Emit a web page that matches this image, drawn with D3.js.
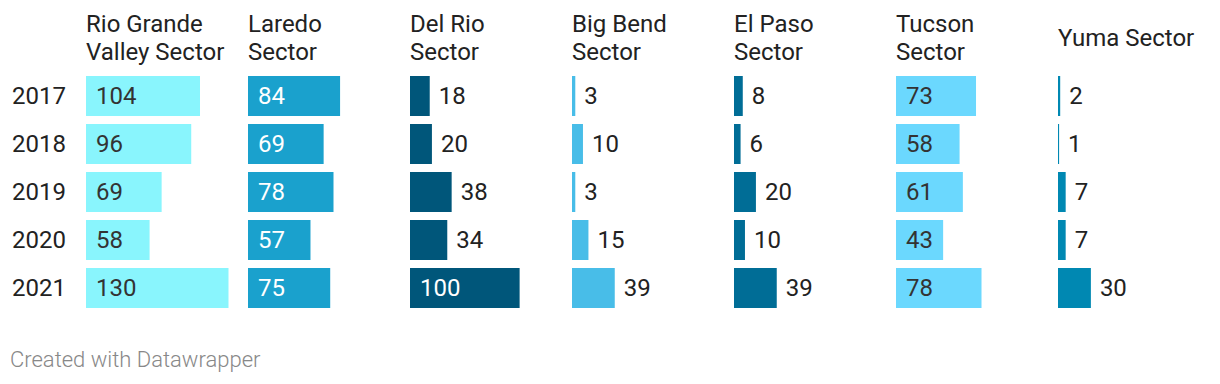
<!DOCTYPE html>
<html>
<head>
<meta charset="utf-8">
<script src="https://cdn.jsdelivr.net/npm/d3@7"></script>
<style>
  html, body { margin: 0; padding: 0; background: #fff; }
  svg { display: block; font-family: Roboto, "Noto Sans", sans-serif; }
</style>
</head>
<body>
<svg id="chart" width="1220" height="384"></svg>
<script>
const years = ["2017", "2018", "2019", "2020", "2021"];
const sectors = [
  "Rio Grande Valley Sector", "Laredo Sector", "Del Rio Sector", "Big Bend Sector",
  "El Paso Sector", "Tucson Sector", "Yuma Sector"
];
const headerLines = [
  ["Rio Grande", "Valley Sector"], ["Laredo", "Sector"], ["Del Rio", "Sector"],
  ["Big Bend", "Sector"], ["El Paso", "Sector"], ["Tucson", "Sector"], ["Yuma Sector"]
];
const rioGrande = [104, 96, 69, 58, 130];
const laredo = [84, 69, 78, 57, 75];
const delRio = [18, 20, 38, 34, 100];
const bigBend = [3, 10, 3, 15, 39];
const elPaso = [8, 6, 20, 10, 39];
const tucson = [73, 58, 61, 43, 78];
const yuma = [2, 1, 7, 7, 30];
const seriesValues = [rioGrande, laredo, delRio, bigBend, elPaso, tucson, yuma];
const colors = ["#89f5fd", "#1aa1cd", "#00567a", "#48bde8", "#006d96", "#6bd8fe", "#0088b2"];
const insideDark = [true, false, false, true, false, true, false];

const svg = d3.select("#chart");

// colonnes et lignes
const col = d3.scaleBand()
  .domain(sectors)
  .range([86, 86 + 7 * 162 - 20])
  .paddingInner(20 / 162);

const row = d3.scaleBand()
  .domain(years)
  .range([76, 308])
  .paddingInner(8 / 48);

const x = d3.scaleLinear().domain([0, 130]).range([0, 142.5]);

// libellés des années
svg.append("g")
  .selectAll("text")
  .data(years)
  .join("text")
  .attr("x", 12)
  .attr("y", d => row(d) + row.bandwidth() / 2)
  .attr("dy", "0.35em")
  .attr("fill", "#222")
  .style("font-size", "24px")
  .text(d => d);

sectors.forEach((sector, i) => {
  const g = svg.append("g").attr("transform", `translate(${col(sector)},0)`);

  // titre de colonne
  const lines = headerLines[i];
  const head = g.append("text")
    .attr("fill", "#222")
    .style("font-size", "24px");
  const baseY = lines.length === 1 ? 46 : 32;
  lines.forEach((line, j) => {
    head.append("tspan").attr("x", 0).attr("y", baseY + j * 28).text(line);
  });

  const data = seriesValues[i].map((v, k) => ({ year: years[k], value: v }));

  g.selectAll("rect")
    .data(data)
    .join("rect")
    .attr("x", 0)
    .attr("y", d => row(d.year))
    .attr("width", d => x(d.value))
    .attr("height", row.bandwidth())
    .attr("fill", colors[i]);

  const labels = g.selectAll("text.val")
    .data(data)
    .join("text")
    .attr("class", "val")
    .attr("y", d => row(d.year) + row.bandwidth() / 2)
    .attr("dy", "0.35em")
    .style("font-size", "24px")
    .text(d => d.value);

  labels.each(function (d) {
    const w = this.getComputedTextLength();
    const el = d3.select(this);
    if (w + 18 <= x(d.value)) {
      el.attr("x", 10).attr("fill", insideDark[i] ? "#333" : "#fff");
    } else {
      el.attr("x", x(d.value) + 9).attr("fill", "#222");
    }
  });
});

svg.append("text")
  .attr("x", 10)
  .attr("y", 367)
  .attr("fill", "#888")
  .style("font-size", "22px")
  .style("font-weight", 300)
  .text("Created with Datawrapper");
</script>
</body>
</html>
